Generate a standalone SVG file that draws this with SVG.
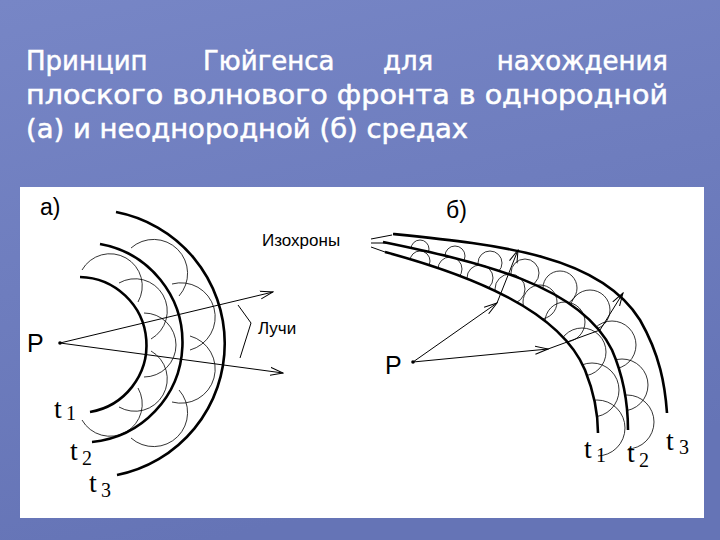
<svg xmlns="http://www.w3.org/2000/svg" width="720" height="540" viewBox="0 0 720 540">
<defs>
<linearGradient id="bg" x1="0" y1="0" x2="0.3" y2="1"><stop offset="0" stop-color="#7786c6"/><stop offset="1" stop-color="#6574b6"/></linearGradient>
<marker id="ar" markerWidth="14" markerHeight="10" refX="13" refY="5" orient="auto" markerUnits="userSpaceOnUse"><path d="M0,1 L13,5 L0,9" fill="none" stroke="#000" stroke-width="1"/></marker>
<clipPath id="c1"><path d="M385,252 C470,275 560,310 585,370 C595,395 598,415 598,433 L598,490 L705,490 L705,190 L370,190 L370,252 Z"/></clipPath>
<clipPath id="c2"><path d="M383,242 C480,262 580,285 612,350 C625,380 628,405 628,430 L628,490 L705,490 L705,190 L370,190 L370,242 Z"/></clipPath>
<style>
.t{font-family:"DejaVu Sans","Liberation Sans",sans-serif;fill:#fff;font-size:26px;stroke:#fff;stroke-width:0.5}
.l{font-family:"Liberation Sans",Arial,sans-serif;fill:#000}
.s{font-family:"Liberation Serif","Times New Roman",serif;fill:#000}
.f{fill:none;stroke:#000;stroke-width:2.6}
.w{fill:none;stroke:#000;stroke-width:0.8}
.r{fill:none;stroke:#000;stroke-width:1}
</style>
</defs>
<rect width="720" height="540" fill="url(#bg)"/>
<g id="title">
<text class="t" x="26" y="70">Принцип</text>
<text class="t" x="203" y="70">Гюйгенса</text>
<text class="t" x="383" y="70">для</text>
<text class="t" x="668" y="70" text-anchor="end">нахождения</text>
<text class="t" x="26" y="104" textLength="642" lengthAdjust="spacingAndGlyphs">плоского волнового фронта в однородной</text>
<text class="t" x="26" y="138" textLength="442" lengthAdjust="spacingAndGlyphs">(а) и неоднородной (б) средах</text>
</g>
<rect id="panel" x="20" y="187" width="684" height="331" fill="#fff"/>
<g id="left">
<text class="l" x="40" y="215" font-size="23">а)</text>
<text class="l" x="27" y="352" font-size="25">P</text>
<circle cx="60" cy="343" r="1.8"/>
<path class="f" d="M80,277 A68,68 0 0 1 90,412"/>
<path class="f" d="M100,244 A100,100 0 0 1 92,442"/>
<path class="f" d="M116,212 A134,134 0 0 1 117,475"/>
<path class="w" d="M82,270 A32,32 0 0 1 138,302 M119,283 A32,32 0 0 1 151,339 M144,313 A32,32 0 0 1 144,377 M151,351 A32,32 0 0 1 119,407 M138,388 A32,32 0 0 1 82,420"/>
<path class="w" d="M131,248 A34,34 0 0 1 179,296 M172,284 A34,34 0 0 1 190,350 M190,336 A34,34 0 0 1 172,402 M179,390 A34,34 0 0 1 131,438"/>
<text class="s" x="54" y="418" font-size="28">t</text><text class="s" x="66" y="420" font-size="20">1</text>
<text class="s" x="70" y="460" font-size="28">t</text><text class="s" x="82" y="465" font-size="20">2</text>
<text class="s" x="89" y="492" font-size="28">t</text><text class="s" x="101" y="497" font-size="20">3</text>
<text class="l" x="258" y="334" font-size="17">Лучи</text>
<path class="r" d="M238,305 L251,323 L240,358"/>
</g>
<g id="right">
<text class="l" x="446" y="218" font-size="23">б)</text>
<text class="l" x="385" y="374" font-size="25">P</text>
<circle cx="413" cy="362" r="1.8"/>
<path class="f" d="M385,252 C470,275 560,310 585,370 C595,395 598,415 598,433"/>
<path class="f" d="M383,242 C480,262 580,285 612,350 C625,380 628,405 628,430"/>
<path class="f" d="M393,234 C500,245 600,255 640,320 C660,355 665,385 667,413"/>
<g clip-path="url(#c1)" class="w">
<circle cx="420" cy="261" r="10"/><circle cx="450" cy="269" r="12"/><circle cx="480" cy="278" r="13"/><circle cx="510" cy="289" r="15"/><circle cx="540" cy="302" r="17"/><circle cx="565" cy="322" r="20"/><circle cx="582" cy="352" r="24"/><circle cx="592" cy="390" r="27"/><circle cx="597" cy="428" r="28"/>
</g>
<g clip-path="url(#c2)" class="w">
<circle cx="420" cy="249" r="9"/><circle cx="455" cy="256" r="10"/><circle cx="490" cy="263" r="12"/><circle cx="525" cy="273" r="14"/><circle cx="560" cy="288" r="17"/><circle cx="590" cy="310" r="20"/><circle cx="612" cy="345" r="24"/><circle cx="622" cy="385" r="26"/><circle cx="627" cy="422" r="27"/>
</g>
<text class="l" x="262" y="246" font-size="17">Изохроны</text>
<path class="r" d="M371,239 L392,235 M371,243 L386,243 M371,247 L385,252"/>
<text class="s" x="584" y="458" font-size="28">t</text><text class="s" x="596" y="462" font-size="20">1</text>
<text class="s" x="627" y="462" font-size="28">t</text><text class="s" x="639" y="467" font-size="20">2</text>
<text class="s" x="666" y="450" font-size="28">t</text><text class="s" x="679" y="454" font-size="20">3</text>
</g>
<g id="connectors">
<line class="r" x1="60" y1="343" x2="273" y2="292" marker-end="url(#ar)"/>
<line class="r" x1="60" y1="343" x2="283" y2="373" marker-end="url(#ar)"/>
<line class="r" x1="413" y1="362" x2="497" y2="303" marker-end="url(#ar)"/>
<line class="r" x1="497" y1="303" x2="518" y2="250" marker-end="url(#ar)"/>
<line class="r" x1="413" y1="362" x2="548" y2="349" marker-end="url(#ar)"/>
<line class="r" x1="548" y1="349" x2="600" y2="330"/>
<line class="r" x1="600" y1="330" x2="623" y2="293" marker-end="url(#ar)"/>
</g>
</svg>
